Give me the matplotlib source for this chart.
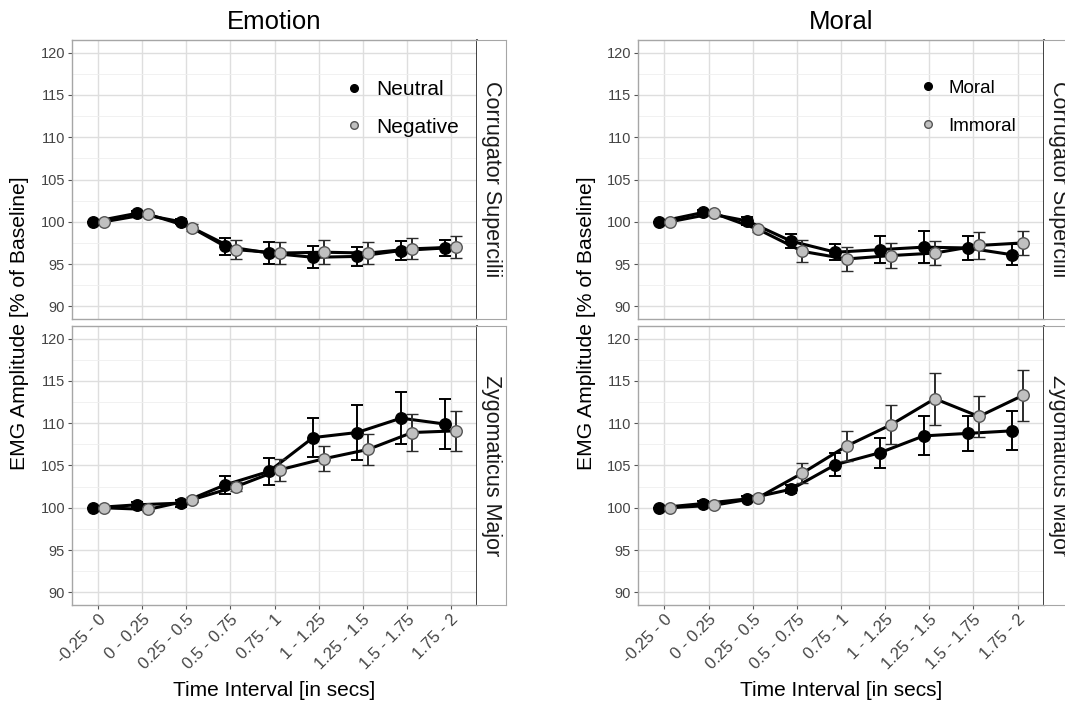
import matplotlib
matplotlib.use("Agg")
import matplotlib.pyplot as plt
from matplotlib.lines import Line2D
import numpy as np

plt.rcParams['font.family'] = ['Liberation Sans', 'DejaVu Sans']

# Data.
intervals = ['-0.25 - 0', '0 - 0.25', '0.25 - 0.5', '0.5 - 0.75', '0.75 - 1',
             '1 - 1.25', '1.25 - 1.5', '1.5 - 1.75', '1.75 - 2']

# Emotion, Corrugator Supercilii
emo_cor_neutral = [100.0, 101.0, 100.0, 97.1, 96.3, 95.8, 95.9, 96.6, 96.9]
emo_cor_neutral_err = [0.0, 0.3, 0.3, 1.0, 1.3, 1.3, 1.15, 1.1, 1.0]
emo_cor_negative = [100.0, 100.9, 99.3, 96.7, 96.3, 96.4, 96.3, 96.8, 97.0]
emo_cor_negative_err = [0.0, 0.2, 0.4, 1.1, 1.3, 1.4, 1.25, 1.25, 1.3]

# Emotion, Zygomaticus Major
emo_zyg_neutral = [100.0, 100.35, 100.55, 102.7, 104.3, 108.3, 108.9, 110.6, 109.9]
emo_zyg_neutral_err = [0.0, 0.3, 0.4, 1.1, 1.6, 2.35, 3.3, 3.1, 3.0]
emo_zyg_negative = [100.0, 99.8, 100.95, 102.5, 104.5, 105.8, 106.9, 108.9, 109.1]
emo_zyg_negative_err = [0.0, 0.2, 0.3, 0.5, 1.3, 1.5, 1.8, 2.2, 2.35]

# Moral, Corrugator Supercilii
mor_cor_moral = [100.0, 101.1, 100.1, 97.7, 96.4, 96.7, 97.0, 96.9, 96.1]
mor_cor_moral_err = [0.0, 0.3, 0.5, 0.85, 0.95, 1.6, 1.85, 1.4, 1.25]
mor_cor_immoral = [100.0, 101.0, 99.1, 96.5, 95.6, 96.0, 96.3, 97.2, 97.5]
mor_cor_immoral_err = [0.0, 0.3, 0.3, 1.3, 1.4, 1.45, 1.45, 1.6, 1.4]

# Moral, Zygomaticus Major
mor_zyg_moral = [100.0, 100.5, 101.05, 102.2, 105.1, 106.5, 108.5, 108.8, 109.1]
mor_zyg_moral_err = [0.0, 0.3, 0.3, 0.5, 1.4, 1.8, 2.3, 2.1, 2.3]
mor_zyg_immoral = [100.0, 100.3, 101.2, 104.1, 107.3, 109.8, 112.9, 110.8, 113.3]
mor_zyg_immoral_err = [0.0, 0.2, 0.3, 1.2, 1.8, 2.3, 3.1, 2.45, 3.0]

W, H = 1065, 704
fig = plt.figure(figsize=(W / 100, H / 100), dpi=100)


def px_axes(x0, y0, x1, y1):
    # Add axes from pixel box (top-left origin).
    return fig.add_axes([x0 / W, 1 - y1 / H, (x1 - x0) / W, (y1 - y0) / H])


def draw_panel(ax, black, black_err, grey, grey_err, show_x):
    x = np.arange(1, len(intervals) + 1)
    d = 0.125
    ax.set_xlim(0.4, 9.6)
    ax.set_ylim(88.5, 121.5)
    ax.set_yticks([90, 95, 100, 105, 110, 115, 120])
    ax.set_yticks([92.5, 97.5, 102.5, 107.5, 112.5, 117.5], minor=True)
    ax.set_xticks(x)
    ax.grid(True, which='major', color='#dedede', lw=1.0)
    ax.grid(True, which='minor', axis='y', color='#efefef', lw=0.6)
    ax.set_axisbelow(True)
    for s in ax.spines.values():
        s.set_color('#a6a6a6')
        s.set_linewidth(1.0)
    ax.spines['right'].set_color('#333333')
    ax.spines['right'].set_linewidth(1.3)
    ax.tick_params(axis='both', which='major', length=3, color='#555555',
                   labelsize=10.5, labelcolor='#444444', pad=2)
    ax.tick_params(axis='y', which='minor', length=0)
    if show_x:
        ax.set_xticklabels(intervals, rotation=45, ha='right',
                           rotation_mode='anchor', fontsize=12)
    else:
        ax.set_xticklabels([])
        ax.tick_params(axis='x', length=0)

    ax.errorbar(x - d, black, yerr=black_err, color='black', lw=2.2,
                elinewidth=1.4, capsize=4.5, capthick=1.4, marker='o',
                ms=8.3, mfc='black', mec='black', zorder=3)
    ax.errorbar(x + d, grey, yerr=grey_err, color='black', lw=2.2,
                elinewidth=1.4, ecolor='#2b2b2b', capsize=4.5, capthick=1.4,
                marker='o', ms=8.3, mfc='#c0c0c0', mec='#555555', mew=1.0,
                zorder=4)


def draw_strip(x0, y0, x1, y1, label):
    sax = px_axes(x0, y0, x1, y1)
    sax.set_xticks([])
    sax.set_yticks([])
    for s in sax.spines.values():
        s.set_color('#a6a6a6')
    sax.spines['left'].set_visible(False)
    sax.text(0.5, 0.5, label, rotation=-90, ha='center', va='center',
             fontsize=15.5, color='#1a1a1a', transform=sax.transAxes)


panels = [
    (72, 477, 506, 'Emotion', ['Neutral', 'Negative'], 15, 0.67, 0.9,
     [(emo_cor_neutral, emo_cor_neutral_err, emo_cor_negative, emo_cor_negative_err),
      (emo_zyg_neutral, emo_zyg_neutral_err, emo_zyg_negative, emo_zyg_negative_err)]),
    (638, 1044, 1073, 'Moral', ['Moral', 'Immoral'], 13.5, 0.691, 1.1,
     [(mor_cor_moral, mor_cor_moral_err, mor_cor_immoral, mor_cor_immoral_err),
      (mor_zyg_moral, mor_zyg_moral_err, mor_zyg_immoral, mor_zyg_immoral_err)]),
]

rows = [(40, 319, 'Corrugator Supercilii'), (326, 605, 'Zygomaticus Major')]

for x0, x1, xs, title, labels, lfs, lx, lsp, series in panels:
    for i, (y0, y1, strip) in enumerate(rows):
        ax = px_axes(x0, y0, x1, y1)
        draw_panel(ax, *series[i], show_x=(i == 1))
        draw_strip(x1, y0, xs, y1, strip)
        if i == 0:
            handles = [
                Line2D([], [], ls='none', marker='o', ms=5.5, mfc='black',
                       mec='black'),
                Line2D([], [], ls='none', marker='o', ms=5.5, mfc='#c0c0c0',
                       mec='#555555'),
            ]
            ax.legend(handles, labels, loc='upper left',
                      bbox_to_anchor=(lx, 0.857), frameon=False,
                      fontsize=lfs, handlelength=1.0, handletextpad=0.6,
                      labelspacing=lsp, borderaxespad=0, borderpad=0)
    cx = (x0 + x1) / 2 / W
    fig.text(cx, 1 - 22 / H, title, ha='center', va='center', fontsize=18.5,
             color='black')
    fig.text(cx, 1 - 690 / H, 'Time Interval [in secs]', ha='center',
             va='center', fontsize=15, color='black')
    fig.text((x0 - 52) / W, 1 - 323 / H, 'EMG Amplitude [% of Baseline]',
             rotation=90, ha='center', va='center', fontsize=15.2,
             color='black')

fig.savefig('out.png', dpi=100)
